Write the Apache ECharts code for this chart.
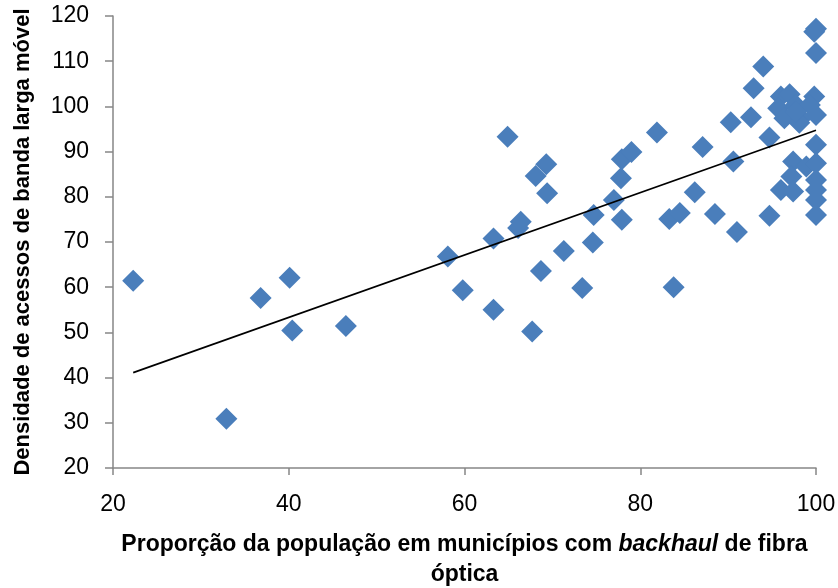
<!DOCTYPE html>
<html>
<head>
<meta charset="utf-8">
<script src="https://cdn.jsdelivr.net/npm/echarts@6/dist/echarts.min.js"></script>
<style>
  html, body { margin: 0; padding: 0; background: #fff; }
  #chart { width: 838px; height: 588px; }
</style>
</head>
<body>
<div id="chart"></div>
<script>
// proporção da população com backhaul de fibra (%)
var xValues = [22.3, 32.9, 36.8, 40.1, 40.4, 46.5, 58.1, 59.8, 63.3, 63.3,
  64.9, 66.1, 66.4, 67.7, 68.1, 68.7, 69.3, 69.4, 71.3, 73.4,
  74.6, 74.7, 77.0, 77.8, 77.9, 77.9, 79.0, 81.9, 83.3, 83.8,
  84.5, 86.2, 87.1, 88.5, 90.3, 90.6, 91.0, 92.6, 92.9, 94.0,
  94.7, 94.7, 96.0, 97.0, 99.8, 95.7, 97.7, 99.3, 96.4, 98.3,
  100, 100, 99.8, 100, 100, 97.4, 98.9, 100, 97.2, 100,
  96.0, 97.4, 100, 100, 100, 98.1, 97.7];
// densidade de acessos de banda larga móvel
var yValues = [61.4, 30.9, 57.6, 62.1, 50.4, 51.4, 66.8, 59.3, 55.0, 70.8,
  93.3, 73.1, 74.5, 50.2, 84.6, 63.6, 87.2, 80.8, 68.0, 59.8,
  69.9, 76.0, 79.3, 84.1, 74.9, 88.3, 89.9, 94.2, 75.1, 60.0,
  76.4, 81.0, 91.0, 76.2, 96.5, 87.8, 72.2, 97.6, 104.0, 108.8,
  93.1, 75.8, 102.2, 102.7, 102.2, 99.6, 100.3, 100.3, 97.4, 97.4,
  98.1, 117.2, 116.5, 111.8, 91.5, 87.8, 86.7, 87.4, 84.5, 83.7,
  81.5, 81.2, 81.5, 79.3, 76.0, 96.4, 98.8];
// linha de tendência (extremos)
var trendX = [22.3, 100];
var trendY = [41.1, 94.7];

var xTicks = [20, 100, 20];   // min, max, interval
var yTicks = [20, 120, 10];

var points = xValues.map(function (x, i) { return [x, yValues[i]]; });
var trend = trendX.map(function (x, i) { return [x, trendY[i]]; });

var chart = echarts.init(document.getElementById('chart'));
var labelFont = 'Liberation Sans, Arial, sans-serif';
var axisGrey = '#868686';
chart.setOption({
  animation: false,
  grid: { left: 113, right: 22, top: 16, bottom: 120, outerBoundsMode: 'none' },
  xAxis: {
    type: 'value',
    min: xTicks[0], max: xTicks[1], interval: xTicks[2],
    name: 'Proporção da população em municípios com {i|backhaul} de fibra\n{b|óptica}',
    nameLocation: 'middle',
    nameGap: 62,
    nameTextStyle: {
      fontFamily: labelFont, fontWeight: 'bold', fontSize: 23, color: '#000', lineHeight: 30,
      rich: {
        i: { fontFamily: labelFont, fontWeight: 'bold', fontStyle: 'italic', fontSize: 23, color: '#000', lineHeight: 30 },
        b: { fontFamily: labelFont, fontWeight: 'bold', fontSize: 23, color: '#000', lineHeight: 30 }
      }
    },
    axisLine: { show: true, lineStyle: { color: axisGrey, width: 1.5 } },
    axisTick: { show: true, length: 7, lineStyle: { color: axisGrey, width: 1.5 } },
    axisLabel: { fontFamily: labelFont, fontSize: 23, color: '#000', margin: 25 },
    splitLine: { show: false }
  },
  yAxis: {
    type: 'value',
    min: yTicks[0], max: yTicks[1], interval: yTicks[2],
    name: 'Densidade de acessos de banda larga móvel',
    nameLocation: 'middle',
    nameGap: 79,
    nameTextStyle: { fontFamily: labelFont, fontWeight: 'bold', fontSize: 22, color: '#000' },
    axisLine: { show: true, lineStyle: { color: axisGrey, width: 1.5 } },
    axisTick: { show: true, length: 8, lineStyle: { color: axisGrey, width: 1.5 } },
    axisLabel: { fontFamily: labelFont, fontSize: 23, color: '#000', margin: 24 },
    splitLine: { show: false }
  },
  series: [{
    type: 'scatter',
    data: points,
    symbol: 'diamond',
    symbolSize: [22, 22],
    itemStyle: { color: '#4a7ebb', opacity: 1 },
    z: 2
  }, {
    type: 'line',
    data: trend,
    symbol: 'none',
    lineStyle: { color: '#000', width: 1.6 },
    z: 3
  }]
});
</script>
</body>
</html>
